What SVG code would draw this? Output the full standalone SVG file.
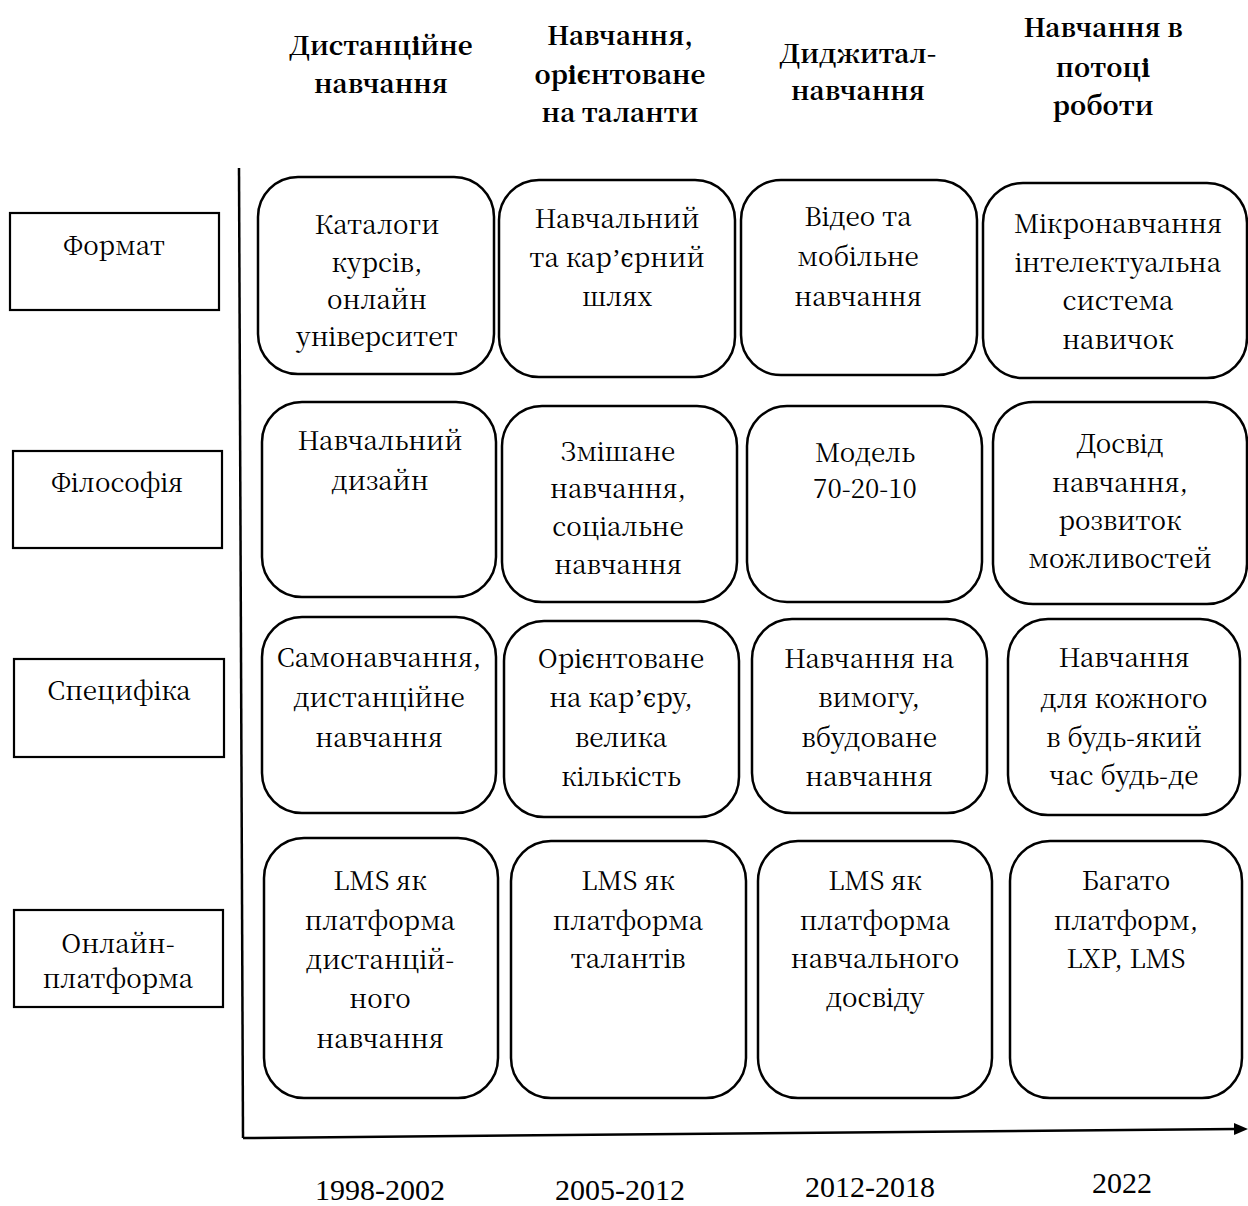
<svg xmlns="http://www.w3.org/2000/svg" width="1248" height="1206" viewBox="0 0 1248 1206">
<style>
.t{font-family:"Noto Serif CJK SC","DejaVu Serif Condensed",serif;font-size:26px;fill:#000;text-anchor:middle}
.y{font-family:"Liberation Serif","Times New Roman",serif;font-size:30px;fill:#000;text-anchor:middle}
.h{font-family:"Noto Serif CJK SC","DejaVu Serif Condensed",serif;font-size:26px;font-weight:bold;fill:#000;text-anchor:middle}
.ap{font-family:"Liberation Serif","Times New Roman",serif}
.lb{fill:#fff;stroke:#000;stroke-width:2.2}
.rb{fill:#fff;stroke:#000;stroke-width:2.5}
.ax{stroke:#000;stroke-width:2.5;fill:none}
</style>
<defs>
<marker id="ah" markerWidth="14" markerHeight="12" refX="2" refY="6" orient="auto" markerUnits="userSpaceOnUse"><path d="M0,0 L14,6 L0,12 Z" fill="#000"/></marker>
</defs>
<rect width="1248" height="1206" fill="#fff"/>
<g id="headers">
<text class="h" x="381" y="55">Дистанційне</text>
<text class="h" x="381" y="93">навчання</text>
<text class="h" x="620" y="45">Навчання,</text>
<text class="h" x="620" y="84">орієнтоване</text>
<text class="h" x="620" y="122">на таланти</text>
<text class="h" x="858" y="63">Диджитал-</text>
<text class="h" x="858" y="100">навчання</text>
<text class="h" x="1103" y="37">Навчання в</text>
<text class="h" x="1103" y="77">потоці</text>
<text class="h" x="1103" y="115">роботи</text>
</g>
<g id="connectors">
<path class="ax" d="M239,168 L243,1138"/>
<path class="ax" d="M243,1138 L1236,1129" marker-end="url(#ah)"/>
</g>
<g id="row-format">
<rect class="lb" x="10" y="213" width="209" height="97"/>
<text class="t" x="114" y="255">Формат</text>
</g>
<g id="row-philosophy">
<rect class="lb" x="13" y="451" width="209" height="97"/>
<text class="t" x="117" y="492">Філософія</text>
</g>
<g id="row-specifics">
<rect class="lb" x="14" y="659" width="210" height="98"/>
<text class="t" x="119" y="700">Специфіка</text>
</g>
<g id="row-platform">
<rect class="lb" x="14" y="910" width="209" height="97"/>
<text class="t" x="118" y="953">Онлайн-</text>
<text class="t" x="118" y="988">платформа</text>
</g>
<g id="n11"><rect class="rb" x="258" y="177" width="236" height="197" rx="40"/>
<text class="t" x="377" y="234">Каталоги</text><text class="t" x="377" y="272">курсів,</text><text class="t" x="377" y="309">онлайн</text><text class="t" x="377" y="346">університет</text></g>
<g id="n12"><rect class="rb" x="499" y="180" width="236" height="197" rx="40"/>
<text class="t" x="617" y="228">Навчальний</text><text class="t" x="617" y="267">та кар<tspan class="ap">’</tspan>єрний</text><text class="t" x="617" y="306">шлях</text></g>
<g id="n13"><rect class="rb" x="741" y="180" width="236" height="195" rx="40"/>
<text class="t" x="858" y="226">Відео та</text><text class="t" x="858" y="266">мобільне</text><text class="t" x="858" y="306">навчання</text></g>
<g id="n14"><rect class="rb" x="983" y="183" width="264" height="195" rx="40"/>
<text class="t" x="1118" y="233">Мікронавчання</text><text class="t" x="1118" y="272">інтелектуальна</text><text class="t" x="1118" y="310">система</text><text class="t" x="1118" y="349">навичок</text></g>
<g id="n21"><rect class="rb" x="262" y="402" width="234" height="195" rx="40"/>
<text class="t" x="380" y="450">Навчальний</text><text class="t" x="380" y="490">дизайн</text></g>
<g id="n22"><rect class="rb" x="502" y="406" width="235" height="196" rx="40"/>
<text class="t" x="618" y="461">Змішане</text><text class="t" x="618" y="498">навчання,</text><text class="t" x="618" y="536">соціальне</text><text class="t" x="618" y="574">навчання</text></g>
<g id="n23"><rect class="rb" x="747" y="406" width="235" height="196" rx="40"/>
<text class="t" x="865" y="462">Модель</text><text class="t" x="865" y="498">70-20-10</text></g>
<g id="n24"><rect class="rb" x="993" y="402" width="254" height="202" rx="40"/>
<text class="t" x="1120" y="453">Досвід</text><text class="t" x="1120" y="492">навчання,</text><text class="t" x="1120" y="530">розвиток</text><text class="t" x="1120" y="568">можливостей</text></g>
<g id="n31"><rect class="rb" x="262" y="617" width="234" height="196" rx="40"/>
<text class="t" x="379" y="667">Самонавчання,</text><text class="t" x="379" y="707">дистанційне</text><text class="t" x="379" y="747">навчання</text></g>
<g id="n32"><rect class="rb" x="504" y="621" width="235" height="196" rx="40"/>
<text class="t" x="621" y="668">Орієнтоване</text><text class="t" x="621" y="707">на кар<tspan class="ap">’</tspan>єру,</text><text class="t" x="621" y="747">велика</text><text class="t" x="621" y="786">кількість</text></g>
<g id="n33"><rect class="rb" x="752" y="619" width="235" height="194" rx="40"/>
<text class="t" x="869" y="668">Навчання на</text><text class="t" x="869" y="707">вимогу,</text><text class="t" x="869" y="747">вбудоване</text><text class="t" x="869" y="786">навчання</text></g>
<g id="n34"><rect class="rb" x="1008" y="619" width="232" height="196" rx="40"/>
<text class="t" x="1124" y="667">Навчання</text><text class="t" x="1124" y="708">для кожного</text><text class="t" x="1124" y="747">в будь-який</text><text class="t" x="1124" y="785">час будь-де</text></g>
<g id="n41"><rect class="rb" x="264" y="838" width="234" height="260" rx="40"/>
<text class="t" x="380" y="890">LMS як</text><text class="t" x="380" y="930">платформа</text><text class="t" x="380" y="969">дистанцій-</text><text class="t" x="380" y="1008">ного</text><text class="t" x="380" y="1048">навчання</text></g>
<g id="n42"><rect class="rb" x="511" y="841" width="235" height="257" rx="40"/>
<text class="t" x="628" y="890">LMS як</text><text class="t" x="628" y="930">платформа</text><text class="t" x="628" y="968">талантів</text></g>
<g id="n43"><rect class="rb" x="758" y="841" width="234" height="257" rx="40"/>
<text class="t" x="875" y="890">LMS як</text><text class="t" x="875" y="930">платформа</text><text class="t" x="875" y="968">навчального</text><text class="t" x="875" y="1007">досвіду</text></g>
<g id="n44"><rect class="rb" x="1010" y="841" width="232" height="257" rx="40"/>
<text class="t" x="1126" y="890">Багато</text><text class="t" x="1126" y="930">платформ,</text><text class="t" x="1126" y="968">LXP, LMS</text></g>
<g id="years">
<text class="y" x="380" y="1200">1998-2002</text>
<text class="y" x="620" y="1200">2005-2012</text>
<text class="y" x="870" y="1197">2012-2018</text>
<text class="y" x="1122" y="1193">2022</text>
</g>
</svg>
